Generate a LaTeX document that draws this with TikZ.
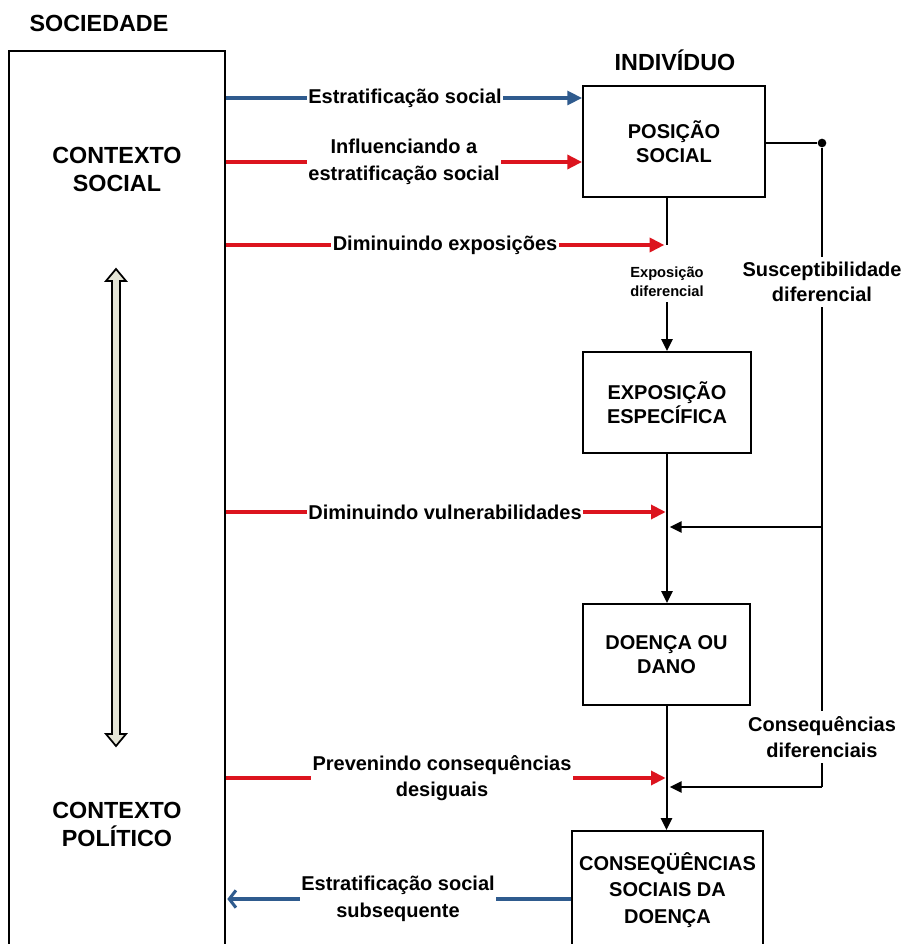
\documentclass[tikz,border=0pt]{standalone}
\usepackage{fontspec}
\setmainfont{Liberation Sans}
\usetikzlibrary{arrows.meta}
\definecolor{myred}{HTML}{DC141E}
\definecolor{myblue}{HTML}{2F5B8E}
\definecolor{arrfill}{HTML}{E4E4D6}
\begin{document}
\begin{tikzpicture}[x=0.75pt,y=-0.75pt,
  box/.style={draw, line width=1.5pt, align=center, inner sep=0pt,
    font=\bfseries\fontsize{15}{18}\selectfont},
  head/.style={align=center, font=\bfseries\fontsize{17.5}{21}\selectfont},
  lbl/.style={align=center, fill=white, inner sep=1pt,
    font=\bfseries\fontsize{15}{20}\selectfont},
  small/.style={align=center, fill=white, inner sep=1pt,
    font=\bfseries\fontsize{11}{14}\selectfont},
  redarr/.style={draw=myred, line width=2.5pt, -{Triangle[length=11pt,width=10.5pt]}},
  bluearr/.style={draw=myblue, line width=2.3pt, -{Triangle[length=11pt,width=10.5pt]}},
  bluebarb/.style={draw=myblue, line width=2.3pt, -{Straight Barb[length=5pt,width=13pt]}},
  blk/.style={line width=1.5pt},
  blkarr/.style={line width=1.5pt, -{Triangle[length=9pt,width=8.5pt]}}
]
\useasboundingbox (0,0) rectangle (904,944);

% left big box
\node[draw, line width=1.5pt, minimum width=162pt, minimum height=674pt, inner sep=0pt] (soc) at (117,500.5) {};
\node[head] (sociedade) at (99,23) {SOCIEDADE};
\node[head] (ctxsoc) at (117,169) {CONTEXTO\\SOCIAL};
\node[head] (ctxpol) at (117,824) {CONTEXTO\\POLÍTICO};
\node[head] (indiv) at (675,60) {INDIVÍDUO};

% double arrow
\draw[line width=1.3pt, fill=arrfill, line join=miter]
  (116,269) -- (126,281) -- (120,281) -- (120,734) -- (126,734) -- (116,746)
  -- (106,734) -- (112,734) -- (112,281) -- (106,281) -- cycle;

% right boxes
\node[box, minimum width=136.5pt, minimum height=83.25pt] (pos) at (674,141.5) {POSIÇÃO\\SOCIAL};
\node[box, minimum width=126pt, minimum height=75.75pt] (exp) at (667,402.5) {EXPOSIÇÃO\\ESPECÍFICA};
\node[box, minimum width=125.25pt, minimum height=75.75pt] (doe) at (666.5,654.5) {DOENÇA OU\\DANO};
\node[box, minimum width=143.25pt, minimum height=88.5pt, font=\bfseries\fontsize{15}{20}\selectfont] (cons) at (667.5,890) {CONSEQÜÊNCIAS\\SOCIAIS DA\\DOENÇA};

% coordinates for labels
\coordinate (l1) at (405,98);
\coordinate (l2) at (404,162);
\coordinate (l3) at (445,245);
\coordinate (l4) at (445,512);
\coordinate (l5) at (442,778);
\coordinate (l6) at (398,899);
\coordinate (j1) at (822,527);
\coordinate (j2) at (822,787);

% coloured arrows
\draw[bluearr] (soc.east |- l1) -- (pos.west |- l1);
\draw[redarr] (soc.east |- l2) -- (pos.west |- l2);
\draw[redarr] (soc.east |- l3) -- ([xshift=-2]exp.north |- l3);
\draw[redarr] (soc.east |- l4) -- ([xshift=-1]exp.south |- l4);
\draw[redarr] (soc.east |- l5) -- ([xshift=-1]exp.south |- l5);
\draw[bluebarb] (cons.west |- l6) -- ([xshift=1]soc.east |- l6);

% black connectors
\node[circle, fill=black, inner sep=0pt, minimum size=6.5pt] (dot) at (822,143) {};
\draw[blk] (pos.east |- dot) -- (dot);
\draw[blk] (exp.north |- pos.south) -- (exp.north |- l3);
\node[small] (expd) at (667,282) {Exposição\\diferencial};
\draw[blkarr] ([yshift=-3]exp.north |- expd.south) -- (exp.north);
\draw[blk] (dot) -- (j2);
\draw[blkarr] (j1) -- ([xshift=2]exp.south |- j1);
\draw[blkarr] (j2) -- ([xshift=2]exp.south |- j2);
\draw[blkarr] (exp.south) -- (exp.south |- doe.north);
\draw[blkarr] (doe.south) -- (doe.south |- cons.north);

% labels on lines
\node[lbl] (t1) at (l1) {Estratificação social};
\node[lbl] (t2) at (l2) {Influenciando a\\estratificação social};
\node[lbl] (t3) at (l3) {Diminuindo exposições};
\node[lbl] (t4) at (l4) {Diminuindo vulnerabilidades};
\node[lbl] (t5) at (l5) {Prevenindo consequências\\desiguais};
\node[lbl] (t6) at (l6) {Estratificação social\\subsequente};
\node[lbl, inner sep=4pt, font=\bfseries\fontsize{15}{19}\selectfont] (susc) at (822,282) {Susceptibilidade\\diferencial};
\node[lbl, inner sep=4pt, font=\bfseries\fontsize{15}{19}\selectfont] (consd) at (822,737) {Consequências\\diferenciais};
\end{tikzpicture}
\end{document}
